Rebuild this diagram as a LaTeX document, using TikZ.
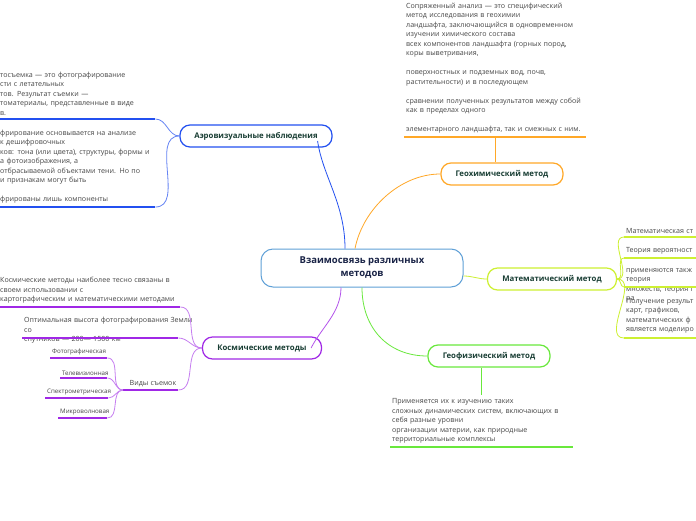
\documentclass[tikz,border=0pt]{standalone}
\usepackage{fontspec}
\setmainfont{Open Sans}
\usetikzlibrary{positioning, calc}

\definecolor{mmblue}{RGB}{35, 80, 240}
\definecolor{mmorange}{RGB}{255, 168, 40}
\definecolor{mmlime}{RGB}{205, 240, 50}
\definecolor{mmgreen}{RGB}{105, 232, 60}
\definecolor{mmpurple}{RGB}{160, 40, 230}
\definecolor{mmcentre}{RGB}{95, 160, 215}
\definecolor{mmnavy}{RGB}{25, 35, 70}
\definecolor{mmlabel}{RGB}{25, 62, 52}
\definecolor{mmtext}{RGB}{70, 70, 70}

\begin{document}
\begin{tikzpicture}[x=1pt, y=-1pt,
  topic/.style={draw=#1, line width=1.2pt, rounded corners=10pt, fill=white,
                minimum height=22pt, text=mmlabel, font=\fontsize{7.8}{9}\selectfont\bfseries},
  leaf/.style={anchor=south west, inner xsep=2pt, inner ysep=3.5pt, align=left,
               text=mmtext, font=\fontsize{7.1}{9.5}\selectfont,
               append after command={(\tikzlastnode.south west) edge[draw=#1, line width=1.6pt] (\tikzlastnode.south east)}},
  tiny/.style={font=\fontsize{6.2}{8}\selectfont, align=right, inner ysep=2.5pt},
  link/.style={draw=#1, line width=0.8pt}]

  \useasboundingbox (0,0) rectangle (696,520);
  \clip (0,0) rectangle (696,520);
  \fill[white] (0,0) rectangle (696,520);

  % main topics
  \node[draw=mmcentre, line width=1pt, rounded corners=12pt, fill=white,
        minimum width=202pt, minimum height=38pt, align=center, text=mmnavy,
        font=\fontsize{9.5}{13}\selectfont\bfseries] (centre) at (362,268)
        {Взаимосвязь различных\\методов};

  \node[topic=mmblue, minimum width=152pt] (aero) at (256,136) {Аэровизуальные наблюдения};
  \node[topic=mmorange, minimum width=122pt] (geochem) at (502,174) {Геохимический метод};
  \node[topic=mmlime, minimum width=129pt] (mat) at (552,279) {Математический метод};
  \node[topic=mmgreen, minimum width=122pt] (geophys) at (489,356) {Геофизический метод};
  \node[topic=mmpurple, minimum width=119pt] (kosm) at (262,348) {Космические методы};

  % aerial
  \node[leaf=mmblue, text width=153pt] (aero1) at (-2,119)
    {тосъемка — это фотографирование\\сти с летательных\\тов. Результат съемки —\\томатериалы, представленные в виде\\в.};
  \node[leaf=mmblue, text width=153pt] (aero2) at (-2,207)
    {фрирование основывается на анализе\\к дешифровочных\\ков: тона (или цвета), структуры, формы и\\а фотоизображения, а\\отбрасываемой объектами тени. Но по\\и признакам могут быть\\\mbox{}\\фрированы лишь компоненты};

  % geochemical
  \node[leaf=mmorange, text width=178pt] (geo1) at (404,137)
    {Сопряженный анализ — это специфический\\метод исследования в геохимии\\ландшафта, заключающийся в одновременном\\изучении химического состава\\всех компонентов ландшафта (горных пород,\\коры выветривания,\\\mbox{}\\поверхностных и подземных вод, почв,\\растительности) и в последующем\\\mbox{}\\сравнении полученных результатов между собой\\как в пределах одного\\\mbox{}\\элементарного ландшафта, так и смежных с ним.};

  % mathematical
  \node[leaf=mmlime, text width=90pt] (mat1) at (624,237) {Математическая ст};
  \node[leaf=mmlime, text width=90pt] (mat2) at (624,258) {Теория вероятност};
  \node[leaf=mmlime, text width=90pt, inner ysep=-15.5pt] (mat3) at (624,287)
    {применяются такж\\теория\\множеств, теория г\\ра};
  \node[leaf=mmlime, text width=90pt, inner ysep=4.5pt] (mat4) at (624,338)
    {Получение результ\\карт, графиков,\\математических ф\\является моделиро};

  % geophysical
  \node[leaf=mmgreen, text width=179pt] (geo2) at (390,447)
    {Применяется их к изучению таких\\сложных динамических систем, включающих в\\себя разные уровни\\организации материи, как природные\\территориальные комплексы};

  % space
  \node[leaf=mmpurple, text width=178pt] (kosm1) at (-2,307)
    {Космические методы наиболее тесно связаны в\\своем использовании с\\картографическим и математическими методами};
  \node[leaf=mmpurple, text width=152pt, inner ysep=-5.5pt] (kosm2) at (22,338)
    {\mbox{Оптимальная высота фотографирования Земли}\\со\\спутников — 200— 1500 км};
  \node[leaf=mmpurple, text width=51pt, align=right, inner ysep=2.5pt] (vidy) at (123,390) {Виды съемок};
  \node[leaf=mmpurple, tiny, text width=53pt] (foto) at (50,358) {Фотографическая};
  \node[leaf=mmpurple, tiny, text width=43pt] (tele) at (60,378) {Телевизионная};
  \node[leaf=mmpurple, tiny, text width=59pt] (spek) at (45,398) {Спектрометрическая};
  \node[leaf=mmpurple, tiny, text width=45pt] (mikro) at (58,418) {Микроволновая};

  % connectors
  \draw[link=mmblue] ([xshift=-17pt]centre.north) .. controls +(0,-45) and +(5,35) .. ([xshift=-15pt,yshift=-5pt]aero.east);
  \draw[link=mmorange] ([xshift=-7pt]centre.north) .. controls +(8,-40) and +(-40,0) .. (geochem.west);
  \draw[link=mmlime] ([yshift=-8pt]centre.east) to[out=0,in=180] (mat.west);
  \draw[link=mmgreen] (centre.south) .. controls +(0,40) and +(-40,0) .. (geophys.west);
  \draw[link=mmpurple!80] ([xshift=-21pt]centre.south) .. controls +(0,25) and +(10,-20) .. ([xshift=-11pt]kosm.east);

  \draw[link=mmblue!70] (aero.west) to[out=180,in=0] (aero1.south east);
  \draw[link=mmblue!70] (aero.west) to[out=180,in=0] (aero2.south east);
  \draw[link=mmorange] (geo1.south) -- (geo1.south |- geochem.north);
  \draw[link=mmgreen] (geo2.north) -- (geo2.north |- geophys.south);
  \foreach \m in {mat1, mat2, mat3, mat4}
    \draw[link=mmlime] (mat.east) to[out=0,in=180] (\m.south west);
  \foreach \k in {kosm1, kosm2, vidy}
    \draw[link=mmpurple!60] (kosm.west) to[out=180,in=0] (\k.south east);
  \foreach \v in {foto, tele, spek, mikro}
    \draw[link=mmpurple!60] (vidy.south west) to[out=180,in=0] (\v.south east);
\end{tikzpicture}
\end{document}
